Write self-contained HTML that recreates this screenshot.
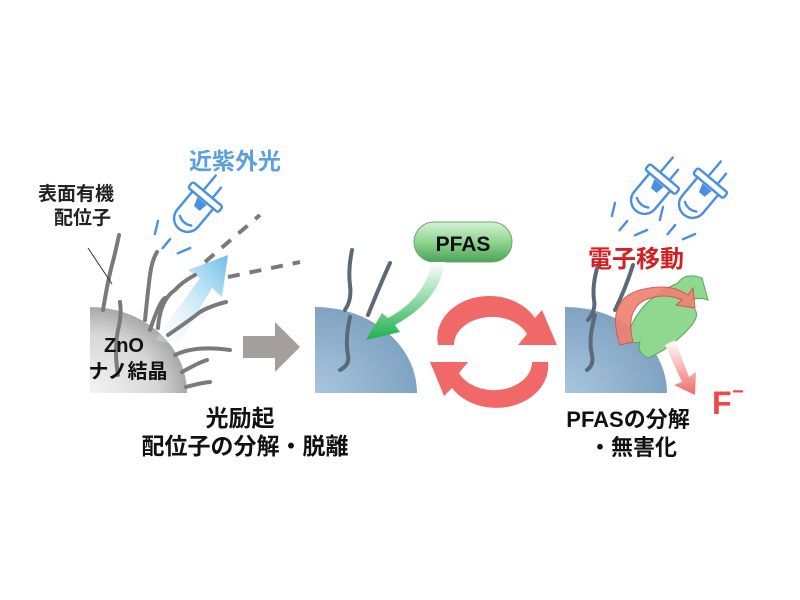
<!DOCTYPE html>
<html><head><meta charset="utf-8"><style>
body{margin:0;background:#fff}
svg{display:block}
text{font-family:"Liberation Sans","Noto Sans CJK JP",sans-serif;font-weight:bold}
</style></head><body>
<svg width="800" height="600" viewBox="0 0 800 600" xmlns="http://www.w3.org/2000/svg">
<defs>
<radialGradient id="gz" cx="0" cy="1" r="1">
<stop offset="0" stop-color="#f4f4f4"/><stop offset="0.7" stop-color="#d6d6d6"/><stop offset="1" stop-color="#a8a8a8"/>
</radialGradient>
<radialGradient id="gb" cx="0" cy="1" r="1">
<stop offset="0" stop-color="#a9c6de"/><stop offset="1" stop-color="#7fa3c2"/>
</radialGradient>
<linearGradient id="uv" x1="0" y1="1" x2="1" y2="0">
<stop offset="0" stop-color="#ffffff" stop-opacity="0.2"/><stop offset="1" stop-color="#6bbde8"/>
</linearGradient>
<linearGradient id="pill" x1="0" y1="0" x2="0" y2="1">
<stop offset="0" stop-color="#d6f2d6"/><stop offset="0.5" stop-color="#8fd48f"/><stop offset="1" stop-color="#4ea25a"/>
</linearGradient>
<linearGradient id="ga" x1="0" y1="0" x2="0" y2="1">
<stop offset="0" stop-color="#ffffff"/><stop offset="1" stop-color="#1db04c"/>
</linearGradient>
<linearGradient id="fa" x1="0" y1="0" x2="0" y2="1">
<stop offset="0" stop-color="#ffffff"/><stop offset="1" stop-color="#f06a6a"/>
</linearGradient>
<g id="led" fill="none" stroke="#4a8fe0" stroke-width="1.6" stroke-linecap="round">
<path d="M-9,0 L-9,16 A9,9 0 0 0 9,16 L9,0"/>
<rect x="-13" y="-5" width="26" height="5" rx="1.5"/>
<line x1="-4" y1="-5" x2="-4" y2="-18"/><line x1="4" y1="-5" x2="4" y2="-14"/>
<path d="M-4,1 L-2,7 L3,7 L4,1" fill="#4a8fe0" stroke="none"/>
<path d="M-5,18 Q0,21 5,18"/>
<line x1="-14" y1="30" x2="-10" y2="38"/><line x1="0" y1="34" x2="0" y2="42"/><line x1="14" y1="30" x2="10" y2="38"/>
</g>
</defs>

<!-- ZnO crystal -->
<path d="M90,393 L90,307 A97,86 0 0 1 187,393 Z" fill="url(#gz)"/>
<!-- UV arrow -->
<path d="M155,340 L200,278 L188,270 L228,255 L222,297 L212,288 L178,345 Z" fill="url(#uv)"/>
<!-- ligands -->
<g fill="none" stroke="#7a7a7a" stroke-width="4" stroke-linecap="round">
<path d="M103,310 Q108,280 112,265 Q116,250 119,235"/>
<path d="M118,375 Q114,350 118,330 Q122,315 120,302"/>
<path d="M145,320 Q148,290 150,275 Q152,260 157,252"/>
<path d="M158,328 Q160,300 175,290 Q182,282 195,275"/>
<path d="M150,330 Q160,300 165,298"/>
<path d="M168,335 Q190,320 200,312 Q210,306 226,302"/>
<path d="M175,355 Q195,345 230,350"/>
<path d="M182,372 Q200,362 207,360"/>
<path d="M186,387 Q200,383 210,382"/>
</g>
<line x1="112" y1="284" x2="88" y2="248" stroke="#333" stroke-width="1"/>
<g stroke="#7a7a7a" stroke-width="4" stroke-dasharray="12,10" fill="none">
<path d="M205,262 L260,215"/>
<path d="M228,277 L300,262"/>
</g>
<!-- gray arrow -->
<path d="M243,336 L275,336 L275,322 L300,347 L275,372 L275,358 L243,358 Z" fill="#a49e9e"/>

<!-- blue crystal 1 -->
<path d="M315,393 L315,307 A102,86 0 0 1 417,393 Z" fill="url(#gb)"/>
<g fill="none" stroke="#5c6a78" stroke-width="4" stroke-linecap="round">
<path d="M352,250 Q348,270 350,285 Q352,300 345,310"/>
<path d="M350,317 Q345,340 348,355 Q350,365 340,370"/>
<path d="M390,263 Q380,285 368,315"/>
</g>
<!-- PFAS pill -->
<rect x="414" y="222" width="98" height="40" rx="20" fill="url(#pill)" stroke="#6aa86a" stroke-width="1"/>
<text x="463" y="251" text-anchor="middle" font-size="21" fill="#111">PFAS</text>
<!-- green arrow -->
<path d="M445,262 Q440,300 395,325 L400,332 L366,340 L382,313 L388,318 Q425,298 432,262 Z" fill="url(#ga)"/>

<!-- red cycle arrows -->
<path d="M438,345 A52,42 0 0 1 535,318 L542,310 L557,345 L518,345 L527,334 A38,28 0 0 0 454,345 Z" fill="#f06868"/>
<path d="M548,362 A52,42 0 0 1 452,388 L444,396 L430,362 L468,362 L459,373 A38,28 0 0 0 532,362 Z" fill="#f06868"/>

<!-- blue crystal 2 -->
<path d="M565,393 L565,307 A102,86 0 0 1 667,393 Z" fill="url(#gb)"/>
<g fill="none" stroke="#5c6a78" stroke-width="4" stroke-linecap="round">
<path d="M598,265 Q592,285 594,300 Q596,310 588,320"/>
<path d="M595,315 Q588,340 592,355 Q594,365 587,370"/>
<path d="M633,265 Q625,290 615,310"/>
</g>
<!-- green fragment -->
<path d="M628,335 Q638,300 678,283 Q685,272 702,278 L708,300 Q692,295 690,305 Q702,312 692,325 Q672,348 648,358 Q636,352 640,342 Q628,345 628,335 Z" fill="#8fd88f" stroke="#5aa65a" stroke-width="1"/>
<!-- F arrow -->
<path d="M665,345 L682,382 L674,385 L695,395 L696,372 L689,377 L675,340 Z" fill="url(#fa)"/>
<!-- curved red arrow -->
<path d="M620,345 Q605,300 640,290 Q670,282 688,295 L693,288 L695,308 L676,305 L682,300 Q665,292 645,300 Q625,310 633,342 Z" fill="#f08070" stroke="#d05050" stroke-width="1" opacity="0.9"/>

<!-- LEDs -->
<use href="#led" transform="translate(203,200) rotate(40) scale(1.5)"/>
<use href="#led" transform="translate(660,182) rotate(40) scale(1.5)"/>
<use href="#led" transform="translate(708,186) rotate(40) scale(1.5)"/>

<!-- text -->
<text x="189" y="169" font-size="23" fill="#5aa0e0">近紫外光</text>
<text x="38" y="200" font-size="19" fill="#222">表面有機</text>
<text x="54" y="224" font-size="19" fill="#222">配位子</text>
<text x="124" y="352" font-size="20" fill="#111" text-anchor="middle">ZnO</text>
<text x="128" y="378" font-size="20" fill="#111" text-anchor="middle">ナノ結晶</text>
<text x="240" y="426" font-size="23" fill="#111" text-anchor="middle">光励起</text>
<text x="245" y="454" font-size="23" fill="#111" text-anchor="middle">配位子の分解・脱離</text>
<text x="588" y="267" font-size="24" fill="#d42020">電子移動</text>
<text x="628" y="427" font-size="22" fill="#111" text-anchor="middle">PFASの分解</text>
<text x="633" y="455" font-size="22" fill="#111" text-anchor="middle">・無害化</text>
<text x="712" y="414" font-size="32" fill="#f04848">F</text>
<text x="732" y="398" font-size="20" fill="#f04848">−</text>
</svg>
</body></html>
